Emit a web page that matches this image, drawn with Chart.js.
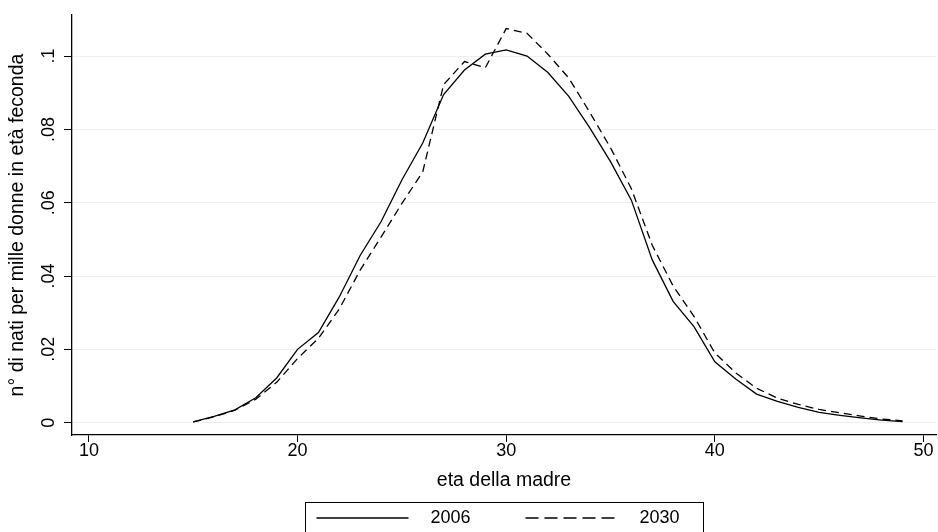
<!DOCTYPE HTML>
<html lang="it">
<head>
  <meta http-equiv="content-type" content="text/html; charset=UTF-8">
  <script src="https://cdn.jsdelivr.net/npm/chart.js"></script>
  <style>
    body { margin: 0; background: #fff; }
    #wrap { width: 938px; height: 532px; }
  </style>
</head>
<body>
  <div id="wrap"><canvas id="chart"></canvas></div>

  <script>
    // Data //
    const ages = [15,16,17,18,19,20,21,22,23,24,25,26,27,28,29,30,31,32,
                  33,34,35,36,37,38,39,40,41,42,43,44,45,46,47,48,49];
    const births2006 = [0.0002,0.0017,0.0035,0.0068,0.0122,0.0200,0.0246,0.0343,0.0456,0.0548,
                        0.0662,0.0763,0.0895,0.0962,0.1005,0.1017,0.1000,0.0955,0.0890,0.0805,
                        0.0712,0.0607,0.0444,0.0331,0.0262,0.0166,0.0119,0.0078,0.0058,0.0042,
                        0.0028,0.0020,0.0013,0.0007,0.0003];
    const births2030 = [0.0002,0.0016,0.0034,0.0064,0.0110,0.0175,0.0230,0.0310,0.0416,0.0506,
                        0.0598,0.0684,0.0922,0.0985,0.0968,0.1075,0.1062,0.1005,0.0940,0.0847,
                        0.0750,0.0638,0.0484,0.0373,0.0290,0.0190,0.0136,0.0094,0.0067,0.0050,
                        0.0036,0.0027,0.0018,0.0010,0.0005];
    const seriesNames = ['2006', '2030'];
    const xTicks = [10, 20, 30, 40, 50];
    const yTicks = [0, 0.02, 0.04, 0.06, 0.08, 0.1];

    const FAMILY = 'Liberation Sans, Arial, sans-serif';
    const TICKFONT = { family: FAMILY, size: 18 };
    const TITLEFONT = { family: FAMILY, size: 19.5 };

    // Stata style: ".08" instead of "0.08"
    function stataNum(v) {
        if (v === 0) return '0';
        return String(+v.toFixed(2)).replace(/^0\./, '.');
    }

    // boxed legend under the plot (Stata look)
    const boxedLegend = {
        id: 'boxedLegend',
        afterDraw(chart) {
            const ctx = chart.ctx;
            const area = chart.chartArea;
            const cx = (area.left + area.right) / 2;
            const w = 398, left = Math.round(cx - w / 2) + 0.5, top = 502.5;
            const y = 518;
            ctx.save();
            ctx.strokeStyle = '#000';
            ctx.lineWidth = 1;
            ctx.strokeRect(left, top, w, 40);
            ctx.font = TICKFONT.size + 'px ' + FAMILY;
            ctx.fillStyle = '#000';
            ctx.textBaseline = 'middle';
            chart.data.datasets.forEach((ds, i) => {
                const x0 = left + 11 + i * 209;
                ctx.beginPath();
                ctx.lineWidth = 1.3;
                ctx.setLineDash(i === 0 ? [] : [13, 6]);
                ctx.moveTo(x0, y);
                ctx.lineTo(x0 + 92, y);
                ctx.stroke();
                ctx.setLineDash([]);
                ctx.fillText(ds.label, x0 + 114, y);
            });
            ctx.restore();
        }
    };

    new Chart(document.getElementById('chart'), {
        type: 'line',
        data: {
            labels: ages,
            datasets: [
                {
                    label: seriesNames[0],
                    data: ages.map((a, i) => ({ x: a, y: births2006[i] })),
                    borderColor: '#000', borderWidth: 1.3,
                    pointRadius: 0, tension: 0,
                },
                {
                    label: seriesNames[1],
                    data: ages.map((a, i) => ({ x: a, y: births2030[i] })),
                    borderColor: '#000', borderWidth: 1.3, borderDash: [8, 5],
                    pointRadius: 0, tension: 0,
                },
            ],
        },
        options: {
            responsive: true,
            maintainAspectRatio: false,
            animation: false,
            layout: { padding: { left: 0, right: 2, top: 15, bottom: 37 } },
            plugins: {
                legend: { display: false },
                tooltip: { enabled: false },
            },
            scales: {
                x: {
                    type: 'linear',
                    min: 9.19, max: 50.6,
                    afterBuildTicks: s => { s.ticks = xTicks.map(v => ({ value: v })); },
                    afterFit: s => { s.height = 60; },
                    grid: { drawOnChartArea: false, color: '#000', tickLength: 7 },
                    border: { color: '#000', width: 1.3 },
                    ticks: { color: '#000', font: TICKFONT, padding: -2, maxRotation: 0 },
                    title: { display: true, text: 'eta della madre', color: '#000', font: TITLEFONT, padding: { top: 0, bottom: 3 } },
                },
                y: {
                    min: -0.00336, max: 0.1112,
                    afterBuildTicks: s => { s.ticks = yTicks.map(v => ({ value: v })); },
                    afterFit: s => { s.width = 72; },
                    grid: { color: '#eeeeee', tickColor: '#000', tickLength: 8 },
                    border: { color: '#000', width: 1.3 },
                    ticks: {
                        color: '#000', font: TICKFONT, padding: 2,
                        minRotation: 90, maxRotation: 90, crossAlign: 'center',
                        callback: v => stataNum(v),
                    },
                    title: { display: true, text: 'n° di nati per mille donne in età feconda', color: '#000', font: TITLEFONT, padding: { top: 6, bottom: 0 } },
                },
            },
        },
        plugins: [boxedLegend],
    });
  </script>
</body>
</html>
